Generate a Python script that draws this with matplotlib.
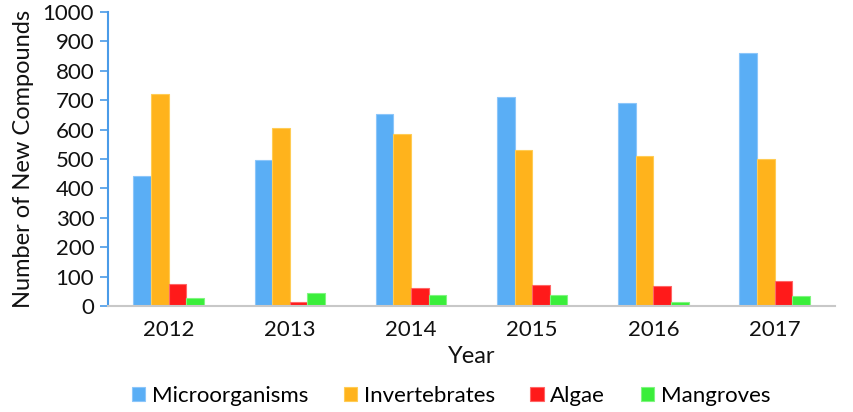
import matplotlib
matplotlib.use("Agg")
import matplotlib.pyplot as plt
import numpy as np

years = ["2012", "2013", "2014", "2015", "2016", "2017"]
series_names = ["Microorganisms", "Invertebrates", "Algae", "Mangroves"]
microorganisms = [442, 497, 653, 711, 690, 860]
invertebrates = [720, 606, 585, 531, 510, 499]
algae = [74, 13, 61, 71, 68, 87]
mangroves = [26, 43, 37, 37, 14, 34]
colors = ["#5aaef5", "#ffb31c", "#ff1a1a", "#3aee3a"]
edge_colors = ["#8cc6fa", "#ffcc55", "#ff6666", "#80f580"]

plt.rcParams['font.family'] = ['Lato', 'DejaVu Sans']

fig = plt.figure(figsize=(8.54, 4.12), dpi=100)
ax = fig.add_axes([0.1265, 0.257, 0.8515, 0.714])

x = np.arange(len(years))
w = 0.145
data = [microorganisms, invertebrates, algae, mangroves]
for i, (vals, name) in enumerate(zip(data, series_names)):
    ax.bar(x + (i - 1.5) * w, vals, w, color=colors[i], edgecolor=edge_colors[i],
           linewidth=0.8, label=name)

ax.set_xlim(-0.5, len(years) - 0.5)
ax.set_ylim(0, 1000)
ax.set_yticks(range(0, 1001, 100))
ax.set_xticks(x)
ax.set_xticklabels(years)
ax.tick_params(axis='y', colors='#4a9be8', direction='out', length=6, width=1.2,
               labelcolor='#111111', labelsize=16, pad=4)
ax.tick_params(axis='x', length=0, labelsize=16, labelcolor='#111111', pad=10)
for s in ['top', 'right']:
    ax.spines[s].set_visible(False)
ax.spines['left'].set_color('#4a9be8')
ax.spines['left'].set_linewidth(1.5)
ax.spines['bottom'].set_color('#c8c8c8')
ax.spines['bottom'].set_linewidth(1.5)

ax.set_ylabel("Number of New Compounds", fontsize=17, color='#111111', labelpad=6)
ax.set_xlabel("Year", fontsize=17, color='#111111', labelpad=4)

fig.legend(loc='center', bbox_to_anchor=(0.528, 0.04), ncol=4, frameon=False,
           fontsize=16, handlelength=0.6, handleheight=0.6, handletextpad=0.3,
           columnspacing=1.6)

fig.savefig("out.png", dpi=100)
